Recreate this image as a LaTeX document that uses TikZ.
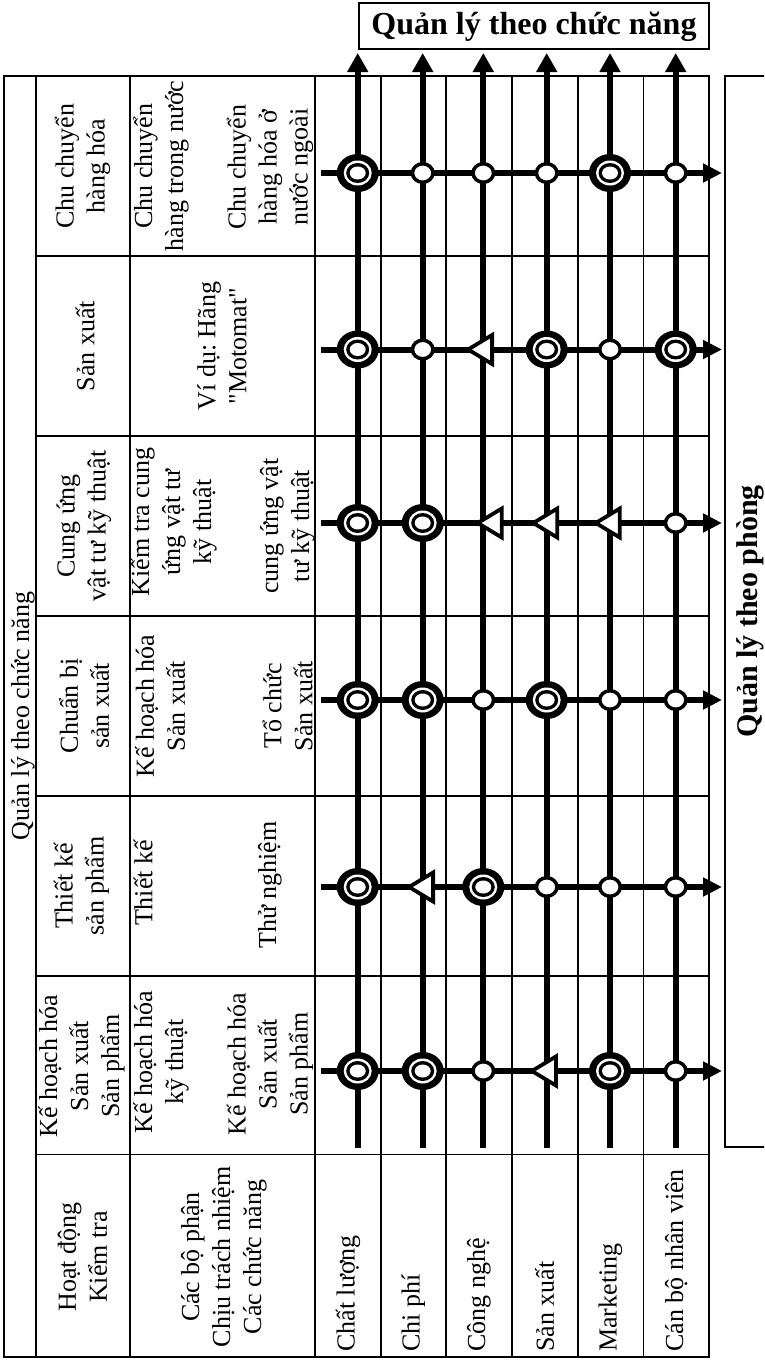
\documentclass[tikz,border=0pt]{standalone}
\usepackage{fontspec}
\setmainfont{Liberation Serif}[Ligatures=TeXOff]
\usetikzlibrary{arrows.meta,shapes.geometric}
\newcommand\mkD[2]{\node[dblc] (m#1#2) at (vb#2 |- hl#1) {};}
\newcommand\mkS[2]{\node[smallc] (m#1#2) at (vb#2 |- hl#1) {};}
\frenchspacing
\begin{document}
\begin{tikzpicture}[x=1pt,y=-1pt,
  tbl/.style={line width=2pt},
  grd/.style={line width=1.6pt},
  varrow/.style={line width=6pt,-{Triangle[length=19pt,width=20pt]}},
  harrow/.style={line width=6pt,-{Triangle[length=19pt,width=18pt]}},
  cell/.style={rotate=90,align=center,inner sep=0pt,font=\fontsize{26}{31}\selectfont},
  dept/.style={rotate=90,anchor=west,inner sep=0pt,font=\fontsize{26}{31}\selectfont},
  smallc/.style={ellipse,draw=black,fill=white,line width=3.5pt,minimum width=20.5pt,minimum height=18.5pt,inner sep=0pt},
  dblc/.style={ellipse,fill=black,minimum width=42pt,minimum height=38pt,inner sep=0pt,
    path picture={
      \fill[white] (path picture bounding box.center) ellipse [x radius=14pt,y radius=12.5pt];
      \fill[black] (path picture bounding box.center) ellipse [x radius=11.5pt,y radius=10pt];
      \fill[white] (path picture bounding box.center) ellipse [x radius=8pt,y radius=6.5pt];}},
  tri/.pic={\draw[line width=3.8pt,fill=white,line join=miter] (-12.5,0) -- (11.5,-14.5) -- (11.5,14.5) -- cycle;}
]
\useasboundingbox (0,0) rectangle (764,1360);
\clip (0,0) rectangle (764,1360);

% table
\draw[tbl] (4,76) rectangle (709,1357);
\foreach \x in {36,130,315} \draw[tbl] (\x,76) -- (\x,1357);
\foreach \x in {380.7,446,511.7,577.7,643.3} \draw[grd] (\x,76) -- (\x,1357);
\foreach \y in {256,436,615.7,796,976,1154.5} \draw[grd] (36,\y) -- (709,\y);

% header texts
\node[cell] (qlcn) at (23,716) {Quản lý theo chức năng};
\node[cell] (b1) at (82.5,166) {Chu chuyển\\hàng hóa};
\node[cell] (b2) at (85,346) {Sản xuất};
\node[cell] (b3) at (84,526) {Cung ứng\\vật tư kỹ thuật};
\node[cell] (b4) at (84,706) {Chuẩn bị\\sản xuất};
\node[cell] (b5) at (81.5,886) {Thiết kế\\sản phẩm};
\node[cell] (b6) at (81.5,1066) {Kế hoạch hóa\\Sản xuất\\Sản phẩm};
\node[cell] (b7) at (82.5,1257) {Hoạt động\\Kiểm tra};
\node[cell] (c1a) at (161,166) {Chu chuyển\\hàng trong nước};
\node[cell] (c1b) at (270,167) {Chu chuyển\\hàng hóa ở\\nước ngoài};
\node[cell] (c2) at (222,346) {Ví dụ: Hãng\\"Motomat"};
\node[cell] (c3a) at (173.5,522) {Kiểm tra cung\\ứng vật tư\\kỹ thuật};
\node[cell] (c3b) at (287.5,526) {cung ứng vật\\tư kỹ thuật};
\node[cell] (c4a) at (160,706) {Kế hoạch hóa\\Sản xuất};
\node[cell] (c4b) at (287.5,706) {Tổ chức\\Sản xuất};
\node[cell] (c5a) at (143,883) {Thiết kế};
\node[cell] (c5b) at (270,885) {Thử nghiệm};
\node[cell] (c6a) at (161,1062) {Kế hoạch hóa\\kỹ thuật};
\node[cell] (c6b) at (270,1064) {Kế hoạch hóa\\Sản xuất\\Sản phẩm};
\node[cell] (c7) at (224,1257) {Các bộ phận\\Chịu trách nhiệm\\Các chức năng};

% department labels
\node[dept] (d1) at (348,1352) {Chất lượng};
\node[dept] (d2) at (413.3,1352) {Chi phí};
\node[dept] (d3) at (478.9,1352) {Công nghệ};
\node[dept] (d4) at (544.7,1352) {Sản xuất};
\node[dept] (d5) at (610.5,1352) {Marketing};
\node[dept] (d6) at (676.2,1352) {Cán bộ nhân viên};

% arrows
\foreach \i/\x in {1/357.7,2/422.7,3/483.3,4/546.7,5/610,6/675.7}{
  \coordinate (vb\i) at (\x,1148);
  \coordinate (vt\i) at (\x,53);
}
\foreach \j/\y in {1/173,2/349.5,3/523,4/700,5/887,6/1071}{
  \coordinate (hl\j) at (321,\y);
  \coordinate (hr\j) at (722,\y);
}
\foreach \i in {1,...,6} \draw[varrow] (vb\i) -- (vt\i);
\foreach \j in {1,...,6} \draw[harrow] (hl\j) -- (hr\j);

% markers
\mkD{1}{1}\mkS{1}{2}\mkS{1}{3}\mkS{1}{4}\mkD{1}{5}\mkS{1}{6}
\mkD{2}{1}\mkS{2}{2}\pic (t23) at (480.6,349.5) {tri};\mkD{2}{4}\mkS{2}{5}\mkD{2}{6}
\mkD{3}{1}\mkD{3}{2}\pic (t33) at (490.3,523) {tri};\pic (t34) at (545.8,523) {tri};\pic (t35) at (608.3,523) {tri};\mkS{3}{6}
\mkD{4}{1}\mkD{4}{2}\mkS{4}{3}\mkD{4}{4}\mkS{4}{5}\mkS{4}{6}
\mkD{5}{1}\pic (t52) at (421.6,887) {tri};\mkD{5}{3}\mkS{5}{4}\mkS{5}{5}\mkS{5}{6}
\mkD{6}{1}\mkD{6}{2}\mkS{6}{3}\pic (t64) at (544.4,1071) {tri};\mkD{6}{5}\mkS{6}{6}

% titles
\node[draw,line width=1.8pt,minimum width=350pt,minimum height=46pt,inner sep=0pt,
  text height=23pt,text depth=7pt,font=\fontsize{32}{38}\selectfont\bfseries] (title) at (534,26) {Quản lý theo chức năng};
\node[draw,line width=1.6pt,rotate=90,minimum width=1071pt,minimum height=50pt,inner sep=0pt,
  text height=21.6pt,text depth=6.6pt,font=\fontsize{30}{36}\selectfont\bfseries] (side) at (750,611.5) {Quản lý theo phòng};
\end{tikzpicture}
\end{document}
